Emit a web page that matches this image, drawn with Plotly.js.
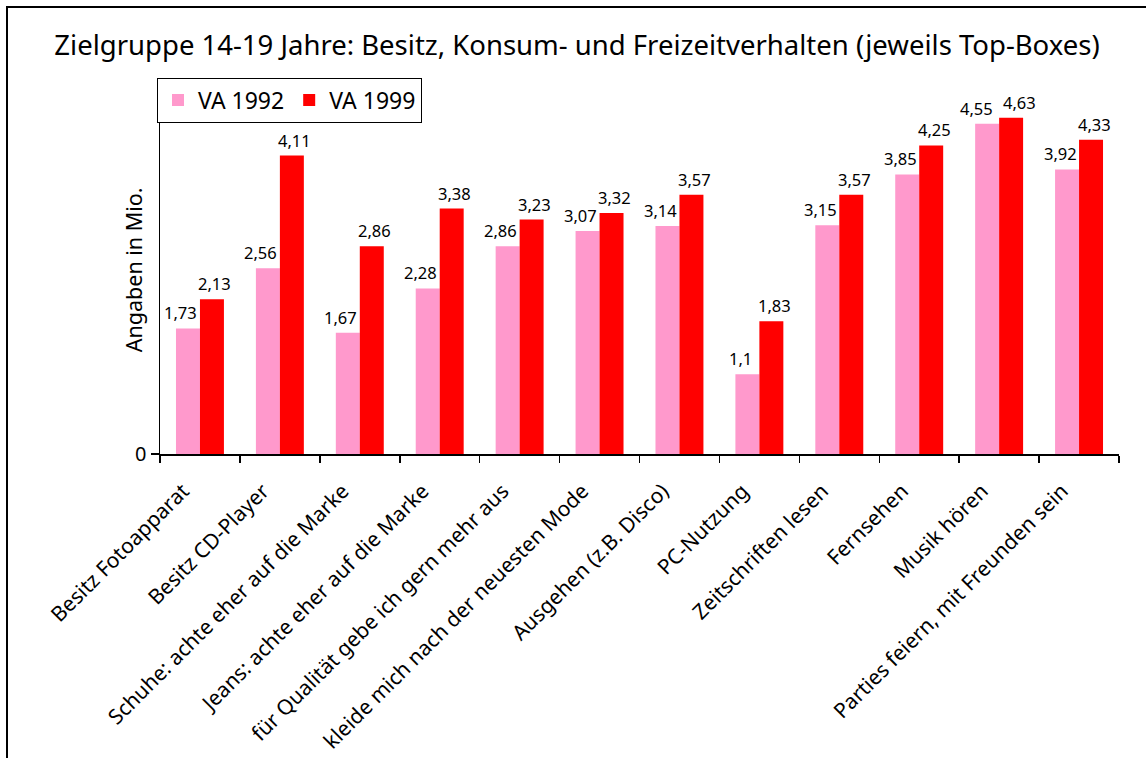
<!DOCTYPE html>
<html>
<head>
<meta charset="utf-8">
<script src="https://cdn.plot.ly/plotly-3.0.1.min.js"></script>
<style>
html, body { margin: 0; padding: 0; background: #fff; overflow: hidden; width: 1146px; height: 758px; }
#wrap { position: relative; width: 1146px; height: 758px; overflow: hidden; background: #fff; }
#chart { position: absolute; left: 0; top: 0; width: 1146px; height: 758px; }
#frame { position: absolute; left: 6px; top: 6px; width: 1300px; height: 900px;
         border-left: 2px solid #000; border-top: 2px solid #000; pointer-events: none; }
</style>
</head>
<body>
<div id="wrap">
<div id="chart"></div>
<div id="frame"></div>
</div>
<script>
const categories = [
  "Besitz Fotoapparat",
  "Besitz CD-Player",
  "Schuhe: achte eher auf die Marke",
  "Jeans: achte eher auf die Marke",
  "für Qualität gebe ich gern mehr aus",
  "kleide mich nach der neuesten Mode",
  "Ausgehen (z.B. Disco)",
  "PC-Nutzung",
  "Zeitschriften lesen",
  "Fernsehen",
  "Musik hören",
  "Parties feiern, mit Freunden sein"
];
const va1992 = [1.73, 2.56, 1.67, 2.28, 2.86, 3.07, 3.14, 1.1, 3.15, 3.85, 4.55, 3.92];
const va1999 = [2.13, 4.11, 2.86, 3.38, 3.23, 3.32, 3.57, 1.83, 3.57, 4.25, 4.63, 4.33];
const seriesNames = ["VA 1992", "VA 1999"];
const titleText = "Zielgruppe 14-19 Jahre: Besitz, Konsum- und Freizeitverhalten (jeweils Top-Boxes)";
const yTitle = "Angaben in Mio.";

const FONT = "Noto Sans, Open Sans, DejaVu Sans, sans-serif";
const fmt = v => String(v).replace('.', ',');

const traces = [
  {
    type: 'bar', name: seriesNames[0], x: categories, y: va1992,
    marker: { color: '#FF99CC' }
  },
  {
    type: 'bar', name: seriesNames[1], x: categories, y: va1999,
    marker: { color: '#FF0000' }
  }
];

const L = 160, R = 27, T = 90.5, B = 304;
const W = 1146, H = 758;
const pw = W - L - R, ph = H - T - B;
const px = x => (x - L) / pw;
const py = y => (H - B - y) / ph;
const pxPerUnit = ph / 5;
const catW = pw / categories.length;
const barW = catW * 0.3;

// value labels above bars (positioned through the axes), nudged apart where they would collide
const labelAnns = [];
categories.forEach((c, i) => {
  const a = va1992[i], b = va1999[i];
  const close = Math.abs(a - b) * pxPerUnit < 16;
  labelAnns.push({
    x: c, y: a, xref: 'x', yref: 'y', text: fmt(a), showarrow: false,
    xanchor: 'center', yanchor: 'bottom',
    xshift: -barW / 2 - 7 - (close ? 4 : 0), yshift: 2,
    font: { family: FONT, size: 16.5, color: '#000' }
  });
  labelAnns.push({
    x: c, y: b, xref: 'x', yref: 'y', text: fmt(b), showarrow: false,
    xanchor: 'center', yanchor: 'bottom',
    xshift: barW / 2 + 3 + (close ? 5 : 0), yshift: 2,
    font: { family: FONT, size: 16.5, color: '#000' }
  });
});

const layout = {
  width: W, height: H,
  margin: { l: L, r: R, t: T, b: B, pad: 0 },
  paper_bgcolor: '#fff', plot_bgcolor: '#fff',
  font: { family: FONT, color: '#000' },
  title: {
    text: titleText,
    font: { family: FONT, size: 27.5, color: '#000' },
    x: 577 / W, xanchor: 'center', xref: 'container',
    y: 1 - 45 / H, yanchor: 'middle', yref: 'container'
  },
  barmode: 'group', bargap: 0.4, bargroupgap: 0,
  showlegend: true,
  legend: {
    orientation: 'h', x: px(157), y: py(77), xanchor: 'left', yanchor: 'top',
    bgcolor: '#fff', bordercolor: '#000', borderwidth: 1,
    font: { family: FONT, size: 23, color: '#000' },
    itemwidth: 30, traceorder: 'normal', tracegroupgap: 0
  },
  xaxis: {
    type: 'category', showgrid: false, zeroline: false,
    showline: true, linecolor: '#000', linewidth: 1.5,
    ticks: 'outside', tickson: 'boundaries', ticklen: 7, tickcolor: '#000', tickwidth: 1.5,
    tickangle: -45, tickfont: { family: FONT, size: 21, color: '#000' },
    ticklabelstandoff: 15, ticklabelshift: -17,
    automargin: false
  },
  yaxis: {
    range: [0, 5], showgrid: false, zeroline: false,
    showline: true, linecolor: '#000', linewidth: 1.5,
    ticks: 'outside', ticklen: 8, tickcolor: '#000', tickwidth: 1.5,
    tickvals: [0], ticktext: ['0'],
    tickfont: { family: FONT, size: 20, color: '#000' },
    automargin: false
  },
  annotations: [
    {
      text: yTitle, textangle: -90, showarrow: false,
      xref: 'paper', yref: 'paper', x: px(133), y: py(270),
      xanchor: 'center', yanchor: 'middle',
      font: { family: FONT, size: 21.5, color: '#000' }
    }
  ].concat(labelAnns)
};

Plotly.newPlot('chart', traces, layout, { displayModeBar: false, staticPlot: true });
</script>
</body>
</html>
